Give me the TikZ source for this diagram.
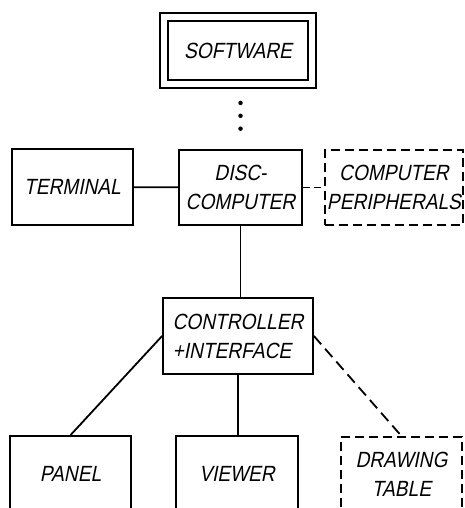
\documentclass[tikz,border=0pt]{standalone}
\usepackage{fontspec}
\newfontfamily\stencil{Liberation Sans}[FakeStretch=0.87,FakeSlant=0.2]
\usepackage{tikz}

\begin{document}
\begin{tikzpicture}[
  x=1pt, y=-1pt,
  blk/.style={draw,line width=1.8pt,align=center,font=\stencil\fontsize{22}{29}\selectfont,inner sep=2pt},
  dblk/.style={blk,dash pattern=on 9pt off 5pt},
  softbox/.style={blk,double,double distance=6.2pt},
  lnk/.style={line width=1.8pt},
  dlnk/.style={lnk,dash pattern=on 9pt off 5pt},
  dotline/.style={line width=4.5pt,line cap=round,dash pattern=on 0pt off 12.9pt}
]
\useasboundingbox (0,0) rectangle (465,508);

\node[softbox,minimum width=148pt,minimum height=67pt] (soft) at (238,50.5) {SOFTWARE};
\node[blk,minimum width=121pt,minimum height=76pt] (term) at (72.5,187) {TERMINAL};
\node[blk,minimum width=123pt,minimum height=75pt] (disc) at (240.5,187.5) {DISC-\\COMPUTER};
\node[dblk,minimum width=138pt,minimum height=75pt] (peri) at (394,187.5) {COMPUTER\\PERIPHERALS};
\node[blk,minimum width=150pt,minimum height=76pt,align=left] (ctrl) at (238,336) {CONTROLLER\\+INTERFACE};
\node[blk,minimum width=121pt,minimum height=75pt] (panel) at (70.5,473.5) {PANEL};
\node[blk,minimum width=122pt,minimum height=75pt] (view) at (237,473.5) {VIEWER};
\node[dblk,minimum width=121pt,minimum height=75pt] (table) at (401.5,474.5) {DRAWING\\TABLE};

\draw[dotline,shorten <=18pt,shorten >=9pt] (disc.north |- soft.south) -- (disc.north);
\draw[lnk] (term) -- (disc);
\draw[dlnk,dash pattern=on 7pt off 4pt] (disc) -- (peri);
\draw[lnk] (disc.south) -- (disc.south |- ctrl.north);
\draw[lnk] (ctrl.west) -- (panel.north);
\draw[lnk] (ctrl.south) -- (ctrl.south |- view.north);
\draw[dlnk,dash pattern=on 11pt off 6pt] (ctrl.east) -- (table.north);
\end{tikzpicture}
\end{document}
